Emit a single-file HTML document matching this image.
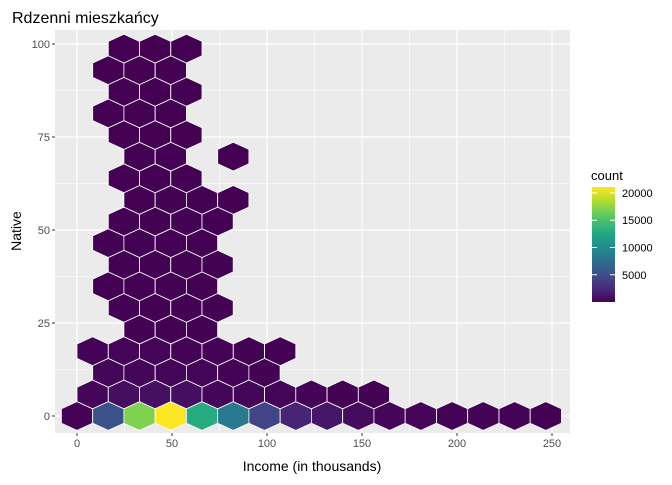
<!DOCTYPE html>
<html><head><meta charset="utf-8"><style>
body{margin:0;background:#fff;font-family:"Liberation Sans",Arial,sans-serif}
</style></head><body>
<svg id="c" width="672" height="480" xmlns="http://www.w3.org/2000/svg"></svg>
<script>
// data: rows of hexes (row index, first col, counts...)
const rowIndex=[0,1,2,3,4,5,6,7,8,9,10,11,12,13,14,15,16,17];
const rowStartCol=[0,0,1,0,2,1,1,1,1,1,2,1,2,1,1,1,1,1];
const rowCounts=[
 [150,5200,17000,21100,13000,8500,4300,2100,1300,600,300,200,150,120,100,80],
 [300,800,900,800,300,250,200,150,80,40],
 [200,250,200,180,120,60],
 [150,200,180,150,100,60,30],
 [60,60,50],
 [80,90,80,50],
 [70,80,70,40],
 [60,80,60,40],
 [50,70,60,30],
 [40,60,50,30],
 [30,40,40,20],
 [30,30,30],
 [20,20,null,5],
 [20,20,20],
 [20,20,20],
 [20,20,20],
 [20,20,20],
 [20,20,20]
];
const xTicks=[0,50,100,150,200,250];
const yTicks=[0,25,50,75,100];
const legendTicks=[5000,10000,15000,20000];
const cMin=1,cMax=21100;
const dxU=16.45, dyU=5.81;

const svg=document.getElementById('c');const NS='http://www.w3.org/2000/svg';
function mk(t,a,p){const e=document.createElementNS(NS,t);for(const k in a)e.setAttribute(k,a[k]);(p||svg).appendChild(e);return e;}
const L=55,R=570,T=30,B=433;
const xs=v=>77+v*1.9, ys=v=>416-v*3.72;
const vir=['#440154','#482475','#414487','#355f8d','#2a788e','#21918c','#22a884','#44bf70','#7ad151','#bddf26','#fde725'];
function hx(c){c=c.replace('#','');return[0,2,4].map(i=>parseInt(c.substr(i,2),16));}
function col(v){let t=Math.max(0,Math.min(1,(v-cMin)/(cMax-cMin)))*10;const i=Math.min(9,Math.floor(t)),f=t-i;const a=hx(vir[i]),b=hx(vir[i+1]);return'rgb('+a.map((x,j)=>Math.round(x+(b[j]-x)*f)).join(',')+')';}

const panel=mk('rect',{x:L,y:T,width:R-L,height:B-T,fill:'#ebebeb'});

for(let i=0;i<xTicks.length-1;i++){const m=(xTicks[i]+xTicks[i+1])/2;mk('line',{x1:xs(m),x2:xs(m),y1:T,y2:B,stroke:'#fff','stroke-width':0.6});}
for(let i=0;i<yTicks.length-1;i++){const m=(yTicks[i]+yTicks[i+1])/2;mk('line',{y1:ys(m),y2:ys(m),x1:L,x2:R,stroke:'#fff','stroke-width':0.6});}
xTicks.forEach(v=>{mk('line',{x1:xs(v),x2:xs(v),y1:T,y2:B,stroke:'#fff','stroke-width':1.2});
 mk('line',{x1:xs(v),x2:xs(v),y1:B,y2:B+3,stroke:'#333'});
 const t=mk('text',{x:xs(v),y:B+14,'text-anchor':'middle','font-size':11,fill:'#4d4d4d'});t.textContent=v;
 });
yTicks.forEach(v=>{mk('line',{y1:ys(v),y2:ys(v),x1:L,x2:R,stroke:'#fff','stroke-width':1.2});
 mk('line',{y1:ys(v),y2:ys(v),x1:L-3,x2:L,stroke:'#333'});
 const t=mk('text',{x:L-5,y:ys(v)+4,'text-anchor':'end','font-size':11,fill:'#4d4d4d'});t.textContent=v;
 });

const hw=15.6, hr=14.4;
rowIndex.forEach((r,ri)=>{rowCounts[ri].forEach((c,j)=>{if(c==null)return;
 const k=rowStartCol[ri]+j;const xv=k*dxU+(r%2?dxU/2:0), yv=r*dyU;
 const cx=xs(xv),cy=ys(yv);
 const pts=[[0,-hr],[hw,-hr/2],[hw,hr/2],[0,hr],[-hw,hr/2],[-hw,-hr/2]].map(p=>(cx+p[0]).toFixed(1)+','+(cy+p[1]).toFixed(1)).join(' ');
 const h=mk('polygon',{points:pts,fill:col(c),stroke:'#fff','stroke-width':0.8});
 
 
});});

const title=mk('text',{x:12,y:23,'font-size':16,fill:'#000'});title.textContent='Rdzenni mieszkańcy';

const xt=mk('text',{x:312,y:471,'text-anchor':'middle','font-size':14,fill:'#000'});xt.textContent='Income (in thousands)';

const yt=mk('text',{x:21,y:231,'text-anchor':'middle','font-size':14,fill:'#000',transform:'rotate(-90 21 231)'});yt.textContent='Native';


// legend
const lg=mk('g',{});
const lt=mk('text',{x:591,y:180,'font-size':13,fill:'#000'},lg);lt.textContent='count';
const defs=mk('defs',{});const gr=mk('linearGradient',{id:'g',x1:0,y1:1,x2:0,y2:0},defs);
vir.forEach((c,i)=>mk('stop',{offset:i/10,'stop-color':c},gr));
const lb=187,lbot=302,lsc=v=>lbot-(v-cMin)/(cMax-cMin)*(lbot-lb);
mk('rect',{x:592,y:lb,width:23,height:lbot-lb,fill:'url(#g)'},lg);
legendTicks.forEach(v=>{const y=lsc(v);
 mk('line',{x1:592,x2:597,y1:y,y2:y,stroke:'#fff'},lg);mk('line',{x1:610,x2:615,y1:y,y2:y,stroke:'#fff'},lg);
 const t=mk('text',{x:622,y:y+4,'font-size':11,fill:'#000'},lg);t.textContent=v;});
</script>
</body></html>
